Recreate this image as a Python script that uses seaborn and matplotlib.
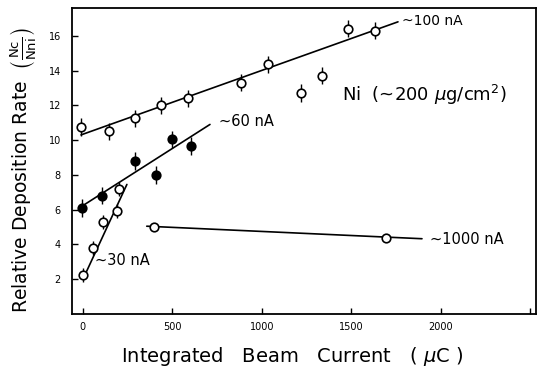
import matplotlib
matplotlib.use("Agg")
import matplotlib.pyplot as plt
import seaborn as sns
import pandas as pd

# ~100 nA series (open circles)
x_100 = [-10, 145, 290, 436, 587, 883, 1034, 1480, 1631, 1218, 1335]
y_100 = [10.75, 10.5, 11.25, 12.0, 12.4, 13.3, 14.35, 16.4, 16.3, 12.7, 13.7]
# ~60 nA series (filled circles)
x_60 = [-5, 106, 290, 408, 497, 603]
y_60 = [6.1, 6.8, 8.8, 8.0, 10.05, 9.65]
# ~30 nA series (open circles)
x_30 = [0, 56, 112, 190, 201]
y_30 = [2.25, 3.8, 5.3, 5.9, 7.2]
# ~1000 nA series
x_1000 = [397, 1693]
y_1000 = [5.0, 4.37]

# hand drawn trend lines (end points)
line_100_x = [-10, 1760]
line_100_y = [10.3, 16.8]
line_60_x = [-5, 710]
line_60_y = [6.2, 10.9]
line_30_x = [5, 246]
line_30_y = [2.1, 7.45]
line_1000_x = [357, 1894]
line_1000_y = [5.05, 4.33]

err_100 = 0.5
err_60 = 0.5
err_30 = 0.4

xticks = [0, 500, 1000, 1500, 2000, 2500]
xtick_labels = ['0', '500', '1000', '1500', '2000', '']
yticks = [2, 4, 6, 8, 10, 12, 14, 16]

sns.set_style("ticks")
plt.rcParams['font.family'] = ['DejaVu Sans']
plt.rcParams['text.color'] = 'black'
plt.rcParams['axes.labelcolor'] = 'black'
plt.rcParams['xtick.color'] = 'black'
plt.rcParams['ytick.color'] = 'black'
plt.rcParams['axes.edgecolor'] = 'black'

fig = plt.figure(figsize=(5.38, 3.77), dpi=100)
ax = fig.add_axes([0.134, 0.167, 0.862, 0.812])

# lines
for lx, ly in [(line_100_x, line_100_y), (line_60_x, line_60_y),
               (line_30_x, line_30_y), (line_1000_x, line_1000_y)]:
    sns.lineplot(x=lx, y=ly, ax=ax, color='black', linewidth=1.2)

# error bars
ax.errorbar(x_100, y_100, yerr=err_100, fmt='none', ecolor='black', elinewidth=1, zorder=3)
ax.errorbar(x_60, y_60, yerr=err_60, fmt='none', ecolor='black', elinewidth=1, zorder=3)
ax.errorbar(x_30, y_30, yerr=err_30, fmt='none', ecolor='black', elinewidth=1, zorder=3)

# markers
open_pts = pd.DataFrame({'x': x_100 + x_30 + x_1000, 'y': y_100 + y_30 + y_1000})
sns.scatterplot(data=open_pts, x='x', y='y', ax=ax, s=38, facecolor='white',
                edgecolor='black', linewidth=1.2, zorder=4)
filled_pts = pd.DataFrame({'x': x_60, 'y': y_60})
sns.scatterplot(data=filled_pts, x='x', y='y', ax=ax, s=38, color='black',
                edgecolor='black', linewidth=1.2, zorder=4)

# labels on the lines
ax.text(1780, 16.85, '~100 nA', fontsize=10, va='center')
ax.text(760, 11.05, '~60 nA', fontsize=10.5, va='center')
ax.text(70, 3.1, '~30 nA', fontsize=10.5, va='center')
ax.text(1940, 4.3, '~1000 nA', fontsize=10.5, va='center')
ax.text(1450, 12.6, r'Ni  (~200 $\mu$g/cm$^2$)', fontsize=13, va='center')

ax.set_xlim(-60, 2530)
ax.set_ylim(0, 17.6)
ax.set_xticks(xticks)
ax.set_xticklabels(xtick_labels)
ax.set_yticks(yticks)
ax.tick_params(direction='in', length=4, labelsize=7, width=1)
ax.tick_params(axis='x', pad=6)
ax.tick_params(axis='y', pad=8)

for s in ax.spines.values():
    s.set_linewidth(1.3)

ax.set_xlabel(r'Integrated   Beam   Current   ( $\mu$C )', fontsize=14)
ax.xaxis.set_label_coords(0.474, -0.1)
ax.set_ylabel(r'Relative Deposition Rate  $\left(\frac{\mathrm{Nc}}{\mathrm{Nni}}\right)$',
              fontsize=13.5)
ax.yaxis.set_label_coords(-0.072, 0.47)

fig.savefig('out.png', dpi=100)
